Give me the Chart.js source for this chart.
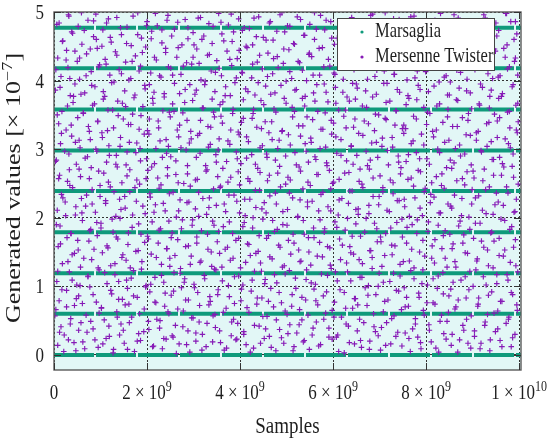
<!DOCTYPE html>
<html>
<head>
<meta charset="utf-8">
<script src="https://cdn.jsdelivr.net/npm/chart.js@4"></script>
<style>
html, body { margin: 0; padding: 0; background: #fff; }
#wrap { width: 547px; height: 444px; }
</style>
</head>
<body>
<div id="wrap"><canvas id="rngChart"></canvas></div>
<script>
// x values are samples in units of 10^9, y values are in units of 10^-7
var xTicks = [0, 2, 4, 6, 8, 10];
var yTicks = [0, 1, 2, 3, 4, 5];
var xRange = [0, 10.04];
var yRange = [-0.22, 5];
var xTitle = 'Samples';
var yTitle = 'Generated values [× 10⁻⁷]';

// Marsaglia output sits on a few discrete levels
var marsagliaLevels = [0, 0.6, 1.19, 1.79, 2.39, 2.98, 3.58, 4.18, 4.77];

// Mersenne Twister output
var mersennePoints = [
[0.08,0.14],[0.31,0.22],[0.47,0.06],[0.62,0.19],[0.95,0.11],[1.12,0.24],[1.28,0.08],[1.51,0.17],[1.73,0.05],[1.86,0.21],[2.14,0.13],[2.33,0.09],[2.41,0.23],[2.69,0.16],[2.92,0.04],[3.05,0.2],[3.27,0.12],[3.58,0.18],[3.66,0.07],[3.91,0.22],[4.13,0.15],[4.29,0.1],[4.52,0.24],[4.77,0.06],[4.94,0.17],[5.16,0.12],[5.38,0.21],[5.49,0.08],[5.73,0.15],[5.98,0.23],[6.12,0.05],[6.35,0.18],[6.61,0.11],[6.79,0.2],[7.02,0.07],[7.24,0.16],[7.48,0.13],[7.63,0.24],[7.89,0.09],[8.11,0.19],[8.27,0.04],[8.54,0.14],[8.72,0.22],[8.96,0.1],[9.18,0.17],[9.37,0.06],[9.59,0.21],[9.83,0.12],
[0.15,0.41],[0.22,0.29],[0.58,0.47],[0.71,0.33],[0.84,0.38],[1.19,0.27],[1.44,0.45],[1.49,0.36],[1.82,0.31],[2.03,0.49],[2.27,0.39],[2.56,0.26],[2.61,0.43],[2.88,0.35],[3.12,0.48],[3.19,0.3],[3.47,0.4],[3.81,0.28],[3.95,0.46],[4.08,0.34],[4.41,0.42],[4.63,0.27],[4.85,0.37],[5.07,0.44],[5.22,0.32],[5.55,0.29],[5.64,0.48],[5.91,0.39],[6.07,0.26],[6.28,0.45],[6.52,0.35],[6.88,0.41],[6.97,0.28],[7.15,0.47],[7.39,0.33],[7.71,0.38],[7.82,0.26],[8.06,0.44],[8.38,0.31],[8.45,0.49],[8.81,0.36],[9.04,0.27],[9.26,0.43],[9.49,0.34],[9.72,0.46],[9.91,0.3],
[0.04,0.66],[0.36,0.53],[0.44,0.72],[0.69,0.58],[1.02,0.69],[1.08,0.51],[1.35,0.63],[1.61,0.74],[1.67,0.55],[1.94,0.67],[2.21,0.52],[2.38,0.71],[2.47,0.6],[2.78,0.64],[2.99,0.54],[3.33,0.73],[3.42,0.57],[3.7,0.68],[3.86,0.52],[4.19,0.62],[4.36,0.74],[4.58,0.56],[4.72,0.7],[5.01,0.59],[5.28,0.66],[5.33,0.51],[5.67,0.73],[5.84,0.61],[6.18,0.55],[6.42,0.68],[6.57,0.52],[6.73,0.72],[7.08,0.63],[7.31,0.57],[7.55,0.7],[7.77,0.53],[7.94,0.65],[8.19,0.74],[8.33,0.58],[8.62,0.67],[8.87,0.52],[9.11,0.71],[9.32,0.59],[9.54,0.64],[9.78,0.55],[9.95,0.73],
[0.11,0.79],[0.27,0.94],[0.53,0.86],[0.77,0.99],[0.91,0.77],[1.24,0.89],[1.39,0.81],[1.58,0.97],[1.79,0.84],[2.06,0.92],[2.19,0.76],[2.52,0.87],[2.74,0.98],[2.83,0.8],[3.09,0.91],[3.36,0.78],[3.53,0.95],[3.77,0.85],[4.02,0.79],[4.24,0.93],[4.47,0.83],[4.66,0.97],[4.89,0.76],[5.12,0.88],[5.41,0.8],[5.59,0.96],[5.79,0.86],[6.03,0.77],[6.24,0.91],[6.46,0.82],[6.69,0.98],[6.92,0.88],[7.11,0.78],[7.36,0.94],[7.58,0.84],[7.84,0.9],[8.02,0.76],[8.24,0.97],[8.49,0.86],[8.69,0.8],[8.92,0.95],[9.13,0.83],[9.41,0.92],[9.63,0.78],[9.86,0.88],
[0.06,1.07],[0.33,1.21],[0.49,1.02],[0.73,1.15],[0.97,1.24],[1.14,1.04],[1.31,1.17],[1.56,1.09],[1.71,1.23],[1.98,1.01],[2.17,1.13],[2.36,1.06],[2.58,1.2],[2.81,1.11],[3.01,1.03],[3.23,1.16],[3.45,1.25],[3.62,1.08],[3.88,1.14],[4.06,1.02],[4.31,1.22],[4.54,1.1],[4.79,1.05],[4.97,1.18],[5.19,1.12],[5.43,1.24],[5.62,1.03],[5.88,1.16],[6.09,1.08],[6.31,1.21],[6.58,1.13],[6.76,1.01],[6.99,1.19],[7.22,1.07],[7.44,1.15],[7.67,1.23],[7.91,1.04],[8.15,1.11],[8.36,1.2],[8.58,1.06],[8.84,1.14],[9.07,1.24],[9.29,1.02],[9.52,1.17],[9.76,1.09],[9.97,1.21],
[0.18,1.33],[0.39,1.46],[0.57,1.28],[0.81,1.39],[1.04,1.49],[1.22,1.3],[1.46,1.42],[1.64,1.27],[1.89,1.36],[2.09,1.47],[2.31,1.32],[2.49,1.41],[2.72,1.26],[2.95,1.44],[3.14,1.35],[3.39,1.29],[3.56,1.48],[3.79,1.38],[4.01,1.27],[4.22,1.45],[4.44,1.34],[4.69,1.4],[4.91,1.28],[5.09,1.47],[5.31,1.37],[5.52,1.31],[5.77,1.43],[5.96,1.26],[6.16,1.39],[6.38,1.49],[6.63,1.33],[6.84,1.42],[7.05,1.29],[7.27,1.46],[7.51,1.36],[7.74,1.27],[7.97,1.44],[8.18,1.34],[8.41,1.41],[8.64,1.28],[8.89,1.48],[9.09,1.37],[9.34,1.3],[9.57,1.45],[9.81,1.35],
[0.09,1.58],[0.28,1.71],[0.52,1.53],[0.75,1.66],[0.93,1.74],[1.16,1.56],[1.37,1.69],[1.59,1.61],[1.81,1.52],[2.01,1.73],[2.24,1.63],[2.43,1.55],[2.66,1.68],[2.89,1.59],[3.07,1.72],[3.31,1.54],[3.51,1.65],[3.73,1.57],[3.97,1.7],[4.16,1.62],[4.39,1.51],[4.61,1.74],[4.83,1.6],[5.04,1.67],[5.26,1.53],[5.47,1.71],[5.71,1.64],[5.93,1.56],[6.14,1.69],[6.36,1.58],[6.59,1.73],[6.81,1.52],[7.03,1.65],[7.26,1.6],[7.49,1.72],[7.69,1.54],[7.93,1.67],[8.13,1.59],[8.37,1.74],[8.56,1.55],[8.79,1.63],[9.02,1.7],[9.24,1.57],[9.46,1.66],[9.69,1.53],[9.92,1.68],
[0.13,1.88],[0.37,1.77],[0.61,1.96],[0.79,1.83],[1.01,1.92],[1.27,1.79],[1.42,1.99],[1.68,1.86],[1.87,1.76],[2.11,1.94],[2.29,1.84],[2.54,1.78],[2.76,1.97],[2.97,1.89],[3.17,1.81],[3.41,1.95],[3.64,1.87],[3.84,1.77],[4.09,1.93],[4.27,1.85],[4.49,1.98],[4.74,1.8],[4.92,1.9],[5.14,1.76],[5.36,1.96],[5.58,1.85],[5.81,1.79],[6.04,1.94],[6.26,1.82],[6.49,1.91],[6.71,1.99],[6.94,1.84],[7.13,1.77],[7.37,1.93],[7.59,1.86],[7.81,1.97],[8.04,1.8],[8.26,1.89],[8.51,1.76],[8.73,1.95],[8.94,1.83],[9.16,1.92],[9.39,1.78],[9.61,1.98],[9.84,1.87],
[0.07,2.11],[0.24,2.23],[0.46,2.04],[0.68,2.17],[0.89,2.08],[1.11,2.21],[1.33,2.02],[1.53,2.14],[1.77,2.24],[1.96,2.06],[2.18,2.19],[2.39,2.1],[2.63,2.01],[2.86,2.22],[3.04,2.13],[3.28,2.05],[3.49,2.18],[3.69,2.09],[3.93,2.24],[4.11,2.03],[4.34,2.15],[4.56,2.07],[4.78,2.2],[5.02,2.12],[5.24,2.01],[5.45,2.23],[5.69,2.1],[5.89,2.16],[6.11,2.04],[6.33,2.21],[6.54,2.13],[6.77,2.06],[6.98,2.19],[7.21,2.09],[7.42,2.25],[7.64,2.02],[7.87,2.14],[8.09,2.22],[8.31,2.07],[8.53,2.17],[8.76,2.03],[8.98,2.2],[9.21,2.11],[9.44,2.05],[9.66,2.18],[9.89,2.08],
[0.16,2.34],[0.34,2.47],[0.59,2.28],[0.82,2.41],[0.99,2.31],[1.21,2.45],[1.41,2.27],[1.63,2.38],[1.84,2.49],[2.07,2.3],[2.26,2.43],[2.48,2.35],[2.71,2.26],[2.93,2.46],[3.11,2.37],[3.34,2.29],[3.57,2.44],[3.76,2.33],[3.99,2.48],[4.21,2.27],[4.42,2.4],[4.64,2.32],[4.87,2.45],[5.06,2.36],[5.29,2.26],[5.51,2.47],[5.74,2.34],[5.95,2.42],[6.19,2.28],[6.41,2.39],[6.62,2.49],[6.86,2.31],[7.07,2.44],[7.29,2.35],[7.53,2.27],[7.73,2.46],[7.96,2.38],[8.17,2.3],[8.39,2.43],[8.61,2.33],[8.83,2.48],[9.06,2.29],[9.28,2.41],[9.51,2.36],[9.73,2.45],[9.94,2.27],
[0.12,2.62],[0.29,2.53],[0.54,2.71],[0.76,2.57],[0.96,2.68],[1.17,2.52],[1.36,2.74],[1.57,2.61],[1.78,2.55],[2.02,2.69],[2.23,2.58],[2.44,2.73],[2.67,2.51],[2.87,2.64],[3.08,2.56],[3.29,2.7],[3.52,2.6],[3.74,2.52],[3.96,2.67],[4.17,2.57],[4.38,2.72],[4.59,2.54],[4.81,2.65],[5.03,2.59],[5.27,2.74],[5.46,2.52],[5.68,2.63],[5.92,2.69],[6.13,2.56],[6.34,2.66],[6.56,2.53],[6.78,2.71],[7.01,2.61],[7.23,2.55],[7.46,2.73],[7.68,2.58],[7.88,2.67],[8.12,2.51],[8.34,2.64],[8.55,2.72],[8.78,2.57],[9.01,2.68],[9.22,2.54],[9.45,2.62],[9.67,2.74],[9.88,2.59],
[0.05,2.84],[0.32,2.93],[0.48,2.78],[0.72,2.89],[0.92,2.97],[1.13,2.81],[1.34,2.91],[1.55,2.77],[1.76,2.95],[1.99,2.86],[2.16,2.79],[2.42,2.94],[2.62,2.83],[2.84,2.99],[3.06,2.88],[3.26,2.76],[3.48,2.92],[3.71,2.82],[3.92,2.96],[4.14,2.87],[4.33,2.78],[4.57,2.93],[4.76,2.84],[4.98,2.9],[5.21,2.77],[5.42,2.97],[5.63,2.85],[5.86,2.8],[6.08,2.94],[6.29,2.83],[6.51,2.91],[6.74,2.76],[6.96,2.88],[7.17,2.98],[7.41,2.81],[7.62,2.92],[7.86,2.86],[8.07,2.78],[8.29,2.95],[8.52,2.84],[8.74,2.9],[8.97,2.77],[9.19,2.96],[9.42,2.85],[9.64,2.79],[9.87,2.93],
[0.14,3.08],[0.38,3.19],[0.56,3.02],[0.78,3.14],[1.03,3.24],[1.18,3.05],[1.43,3.17],[1.62,3.1],[1.85,3.01],[2.04,3.22],[2.28,3.12],[2.46,3.04],[2.68,3.18],[2.91,3.09],[3.13,3.23],[3.32,3.03],[3.55,3.15],[3.78,3.07],[3.98,3.21],[4.18,3.11],[4.43,3.02],[4.62,3.24],[4.84,3.13],[5.08,3.06],[5.3,3.19],[5.53,3.1],[5.72,3.01],[5.97,3.22],[6.17,3.14],[6.39,3.05],[6.64,3.2],[6.83,3.09],[7.06,3.16],[7.28,3.03],[7.52,3.23],[7.72,3.12],[7.95,3.06],[8.16,3.18],[8.4,3.1],[8.63,3.01],[8.86,3.21],[9.08,3.13],[9.31,3.04],[9.53,3.17],[9.77,3.08],[9.96,3.24],
[0.1,3.37],[0.26,3.28],[0.51,3.46],[0.74,3.33],[0.94,3.41],[1.15,3.27],[1.38,3.49],[1.6,3.36],[1.83,3.29],[2.05,3.44],[2.25,3.31],[2.5,3.47],[2.7,3.35],[2.94,3.26],[3.15,3.42],[3.37,3.32],[3.59,3.48],[3.8,3.28],[4.03,3.39],[4.26,3.45],[4.46,3.3],[4.68,3.4],[4.9,3.26],[5.13,3.47],[5.35,3.34],[5.56,3.43],[5.78,3.29],[6.01,3.38],[6.23,3.48],[6.44,3.32],[6.67,3.41],[6.89,3.27],[7.12,3.45],[7.33,3.35],[7.56,3.3],[7.79,3.44],[8.01,3.36],[8.22,3.28],[8.46,3.47],[8.67,3.33],[8.9,3.42],[9.12,3.26],[9.35,3.39],[9.58,3.46],[9.8,3.31],[9.98,3.4],
[0.17,3.55],[0.41,3.68],[0.63,3.52],[0.83,3.64],[1.06,3.73],[1.26,3.57],[1.47,3.67],[1.69,3.51],[1.91,3.62],[2.12,3.74],[2.34,3.56],[2.55,3.66],[2.77,3.53],[2.98,3.71],[3.21,3.6],[3.43,3.54],[3.63,3.69],[3.85,3.58],[4.07,3.72],[4.28,3.52],[4.51,3.65],[4.73,3.59],[4.95,3.74],[5.17,3.55],[5.39,3.63],[5.61,3.7],[5.83,3.53],[6.06,3.67],[6.27,3.57],[6.48,3.73],[6.72,3.61],[6.91,3.51],[7.14,3.68],[7.35,3.56],[7.57,3.65],[7.8,3.72],[8.03,3.54],[8.23,3.63],[8.47,3.58],[8.68,3.71],[8.91,3.52],[9.14,3.66],[9.36,3.6],[9.56,3.74],[9.79,3.55],[9.93,3.64],
[0.03,3.86],[0.35,3.78],[0.45,3.95],[0.66,3.82],[0.88,3.91],[1.09,3.77],[1.29,3.98],[1.52,3.85],[1.74,3.79],[1.95,3.93],[2.15,3.83],[2.37,3.76],[2.59,3.96],[2.82,3.87],[3.03,3.8],[3.24,3.94],[3.46,3.84],[3.68,3.78],[3.89,3.97],[4.12,3.88],[4.32,3.79],[4.55,3.92],[4.75,3.82],[4.99,3.99],[5.18,3.86],[5.4,3.77],[5.65,3.94],[5.85,3.83],[6.05,3.9],[6.3,3.76],[6.5,3.95],[6.7,3.85],[6.93,3.8],[7.16,3.96],[7.38,3.87],[7.61,3.78],[7.83,3.93],[8.05,3.84],[8.28,3.98],[8.5,3.79],[8.71,3.89],[8.95,3.82],[9.17,3.95],[9.4,3.86],[9.62,3.77],[9.85,3.91],
[0.15,4.06],[0.3,4.19],[0.55,4.02],[0.8,4.13],[0.98,4.23],[1.2,4.08],[1.4,4.16],[1.65,4.03],[1.86,4.21],[2.08,4.11],[2.3,4.05],[2.51,4.18],[2.73,4.09],[2.96,4.24],[3.16,4.01],[3.38,4.14],[3.6,4.07],[3.82,4.22],[4.04,4.12],[4.25,4.04],[4.48,4.17],[4.7,4.1],[4.93,4.25],[5.11,4.03],[5.34,4.15],[5.57,4.08],[5.8,4.2],[6.02,4.11],[6.22,4.02],[6.45,4.16],[6.66,4.24],[6.9,4.06],[7.1,4.14],[7.32,4.09],[7.54,4.22],[7.76,4.04],[7.99,4.13],[8.2,4.19],[8.43,4.07],[8.66,4.15],[8.88,4.02],[9.1,4.23],[9.33,4.1],[9.55,4.05],[9.75,4.17],[9.97,4.08],
[0.08,4.33],[0.27,4.44],[0.5,4.28],[0.7,4.39],[0.93,4.47],[1.1,4.31],[1.32,4.42],[1.54,4.27],[1.75,4.36],[1.97,4.49],[2.2,4.3],[2.4,4.41],[2.64,4.34],[2.85,4.26],[3.07,4.46],[3.3,4.37],[3.5,4.29],[3.72,4.43],[3.94,4.32],[4.15,4.48],[4.37,4.27],[4.6,4.4],[4.8,4.35],[5.05,4.45],[5.25,4.28],[5.48,4.38],[5.7,4.47],[5.9,4.31],[6.15,4.42],[6.37,4.26],[6.6,4.36],[6.8,4.49],[7.04,4.33],[7.25,4.41],[7.47,4.29],[7.7,4.45],[7.92,4.35],[8.14,4.27],[8.35,4.43],[8.57,4.32],[8.8,4.48],[9.03,4.3],[9.25,4.39],[9.47,4.46],[9.7,4.34],[9.9,4.28],
[0.19,4.58],[0.4,4.69],[0.6,4.53],[0.85,4.64],[1.05,4.74],[1.23,4.56],[1.45,4.67],[1.66,4.51],[1.88,4.62],[2.1,4.72],[2.32,4.55],[2.53,4.65],[2.75,4.52],[2.99,4.7],[3.18,4.6],[3.4,4.54],[3.61,4.68],[3.83,4.57],[4.05,4.73],[4.27,4.52],[4.5,4.63],[4.71,4.59],[4.96,4.71],[5.15,4.54],[5.37,4.66],[5.6,4.6],[5.82,4.74],[6.03,4.53],[6.25,4.64],[6.47,4.57],[6.68,4.7],[6.92,4.55],[7.12,4.67],[7.34,4.51],[7.55,4.63],[7.78,4.72],[8,4.58],[8.21,4.66],[8.44,4.53],[8.65,4.69],[8.87,4.6],[9.09,4.74],[9.3,4.56],[9.52,4.65],[9.74,4.52],[9.95,4.68],
[0.06,4.82],[0.32,4.94],[0.52,4.79],[0.73,4.88],[0.9,4.97],[1.13,4.84],[1.35,4.92],[1.57,4.78],[1.8,4.99],[2.0,4.86],[2.22,4.8],[2.45,4.95],[2.66,4.85],[2.88,4.77],[3.1,4.91],[3.33,4.83],[3.54,4.98],[3.75,4.81],[3.97,4.9],[4.2,4.76],[4.4,4.93],[4.63,4.84],[4.86,4.96],[5.07,4.79],[5.3,4.89],[5.5,4.82],[5.73,4.95],[5.95,4.86],[6.18,4.78],[6.4,4.92],[6.62,4.85],[6.85,4.97],[7.08,4.8],[7.3,4.9],[7.52,4.83],[7.74,4.94],[7.97,4.77],[8.19,4.88],[8.42,4.81],[8.6,4.96],[8.85,4.87],[9.07,4.79],[9.27,4.91],[9.5,4.84],[9.71,4.98],[9.92,4.86],
[0.21,0.05],[0.43,0.18],[0.12,0.33],[0.35,0.45],[0.02,0.57],[0.27,0.7],[0.48,0.82],[0.17,0.95],[0.39,1.09],[0.08,1.22],[0.3,1.36],[0.44,1.48],[0.14,1.62],[0.36,1.77],[0.05,1.9],[0.25,2.03],[0.47,2.16],[0.19,2.29],[0.4,2.44],[0.1,2.57],[0.33,2.7],[0.03,2.82],[0.23,2.97],[0.46,3.1],[0.16,3.23],[0.37,3.35],[0.07,3.5],[0.29,3.63],[0.42,3.77],[0.13,3.9],[0.34,4.03],[0.04,4.16],[0.26,4.3],[0.45,4.43],[0.18,4.57],[0.38,4.71],[0.11,4.84],[0.31,4.96],
[0.66,0.09],[0.88,0.22],[0.53,0.36],[0.79,0.49],[0.97,0.61],[0.61,0.75],[0.84,0.88],[0.56,1.01],[0.73,1.14],[0.95,1.27],[0.64,1.41],[0.86,1.54],[0.51,1.67],[0.77,1.81],[0.92,1.93],[0.6,2.07],[0.82,2.2],[0.7,2.33],[0.99,2.47],[0.57,2.6],[0.8,2.73],[0.67,2.87],[0.9,3.0],[0.54,3.13],[0.76,3.26],[0.94,3.4],[0.63,3.53],[0.87,3.66],[0.58,3.8],[0.81,3.93],[0.69,4.07],[0.96,4.2],[0.55,4.33],[0.78,4.46],[0.91,4.6],[0.65,4.73],[0.85,4.87],[0.59,4.99],
[1.27,0.03],[1.05,0.16],[1.41,0.29],[1.18,0.42],[1.36,0.55],[1.02,0.68],[1.47,0.81],[1.22,0.94],[1.39,1.07],[1.09,1.2],[1.31,1.33],[1.48,1.46],[1.14,1.59],[1.34,1.72],[1.01,1.85],[1.25,1.98],[1.44,2.12],[1.11,2.25],[1.29,2.38],[1.46,2.51],[1.07,2.65],[1.33,2.78],[1.19,2.91],[1.42,3.04],[1.04,3.17],[1.28,3.31],[1.49,3.44],[1.16,3.57],[1.37,3.7],[1.06,3.84],[1.24,3.97],[1.45,4.1],[1.12,4.24],[1.35,4.37],[1.03,4.5],[1.21,4.63],[1.43,4.77],[1.17,4.9],
[1.58,0.08],[1.79,0.2],[1.93,0.34],[1.62,0.47],[1.84,0.6],[1.53,0.73],[1.71,0.86],[1.97,0.99],[1.66,1.12],[1.88,1.25],[1.55,1.38],[1.76,1.51],[1.95,1.64],[1.6,1.78],[1.82,1.91],[1.69,2.04],[1.91,2.17],[1.52,2.31],[1.74,2.44],[1.98,2.57],[1.63,2.7],[1.86,2.83],[1.57,2.96],[1.78,3.09],[1.94,3.22],[1.65,3.36],[1.87,3.49],[1.54,3.62],[1.72,3.75],[1.96,3.88],[1.61,4.01],[1.83,4.14],[1.68,4.28],[1.9,4.41],[1.56,4.54],[1.8,4.67],[1.99,4.8],[1.7,4.94],
[2.12,0.12],[2.36,0.24],[2.04,0.37],[2.28,0.5],[2.45,0.63],[2.17,0.77],[2.39,0.9],[2.08,1.03],[2.31,1.16],[2.49,1.29],[2.2,1.42],[2.42,1.55],[2.03,1.69],[2.26,1.82],[2.47,1.95],[2.15,2.08],[2.35,2.21],[2.06,2.35],[2.3,2.48],[2.44,2.61],[2.1,2.74],[2.33,2.88],[2.19,3.01],[2.41,3.14],[2.01,3.27],[2.24,3.41],[2.48,3.54],[2.13,3.67],[2.37,3.81],[2.05,3.94],[2.27,4.07],[2.46,4.2],[2.16,4.34],[2.4,4.47],[2.09,4.61],[2.32,4.74],[2.43,4.88],[2.18,4.98],
[2.63,0.02],[2.85,0.15],[2.54,0.28],[2.77,0.41],[2.96,0.54],[2.66,0.67],[2.89,0.8],[2.57,0.93],[2.8,1.06],[2.71,1.19],[2.93,1.32],[2.6,1.45],[2.83,1.58],[2.52,1.71],[2.74,1.84],[2.98,1.97],[2.68,2.1],[2.9,2.23],[2.56,2.37],[2.79,2.5],[2.62,2.63],[2.87,2.76],[2.51,2.89],[2.73,3.02],[2.95,3.15],[2.65,3.28],[2.86,3.42],[2.58,3.55],[2.81,3.68],[2.7,3.81],[2.92,3.94],[2.55,4.08],[2.78,4.21],[2.99,4.34],[2.67,4.48],[2.88,4.61],[2.59,4.75],[2.82,4.89],
[3.18,0.07],[3.41,0.19],[3.05,0.32],[3.29,0.46],[3.46,0.59],[3.13,0.72],[3.35,0.85],[3.02,0.98],[3.24,1.11],[3.48,1.24],[3.16,1.37],[3.38,1.5],[3.07,1.63],[3.3,1.76],[3.44,1.89],[3.11,2.02],[3.33,2.15],[3.2,2.28],[3.43,2.42],[3.04,2.55],[3.27,2.68],[3.49,2.81],[3.14,2.94],[3.36,3.07],[3.09,3.2],[3.31,3.33],[3.45,3.47],[3.19,3.6],[3.4,3.73],[3.06,3.86],[3.25,3.99],[3.47,4.12],[3.12,4.25],[3.34,4.38],[3.01,4.52],[3.22,4.65],[3.42,4.79],[3.15,4.92],
[3.71,0.1],[3.93,0.23],[3.56,0.35],[3.82,0.48],[3.64,0.62],[3.88,0.75],[3.52,0.88],[3.75,1.01],[3.97,1.15],[3.61,1.28],[3.85,1.41],[3.68,1.54],[3.91,1.67],[3.54,1.8],[3.77,1.94],[3.99,2.07],[3.66,2.2],[3.87,2.33],[3.58,2.46],[3.8,2.59],[3.63,2.72],[3.94,2.86],[3.53,2.99],[3.74,3.12],[3.96,3.25],[3.62,3.38],[3.84,3.52],[3.57,3.65],[3.79,3.78],[3.69,3.91],[3.92,4.04],[3.55,4.18],[3.78,4.31],[3.98,4.44],[3.65,4.58],[3.86,4.71],[3.59,4.85],[3.81,4.97],
[4.22,0.04],[4.44,0.17],[4.08,0.3],[4.31,0.43],[4.49,0.56],[4.15,0.69],[4.37,0.83],[4.03,0.96],[4.26,1.09],[4.46,1.22],[4.12,1.35],[4.34,1.48],[4.19,1.61],[4.41,1.74],[4.06,1.87],[4.28,2.0],[4.47,2.13],[4.1,2.27],[4.33,2.4],[4.21,2.53],[4.43,2.66],[4.02,2.79],[4.25,2.92],[4.48,3.05],[4.14,3.18],[4.36,3.32],[4.07,3.45],[4.29,3.58],[4.45,3.71],[4.17,3.84],[4.39,3.97],[4.05,4.11],[4.27,4.24],[4.42,4.37],[4.13,4.5],[4.35,4.64],[4.09,4.77],[4.3,4.91],
[4.67,0.11],[4.89,0.25],[4.55,0.38],[4.78,0.51],[4.97,0.64],[4.61,0.78],[4.84,0.91],[4.53,1.04],[4.74,1.17],[4.95,1.3],[4.64,1.43],[4.86,1.57],[4.57,1.7],[4.8,1.83],[4.7,1.96],[4.92,2.09],[4.52,2.22],[4.76,2.36],[4.98,2.49],[4.63,2.62],[4.85,2.75],[4.58,2.88],[4.81,3.01],[4.69,3.14],[4.91,3.27],[4.54,3.4],[4.77,3.54],[4.99,3.67],[4.66,3.8],[4.88,3.93],[4.59,4.06],[4.82,4.19],[4.72,4.32],[4.94,4.46],[4.56,4.59],[4.79,4.72],[4.65,4.86],[4.9,4.99],
[5.14,0.06],[5.36,0.19],[5.03,0.31],[5.27,0.44],[5.46,0.58],[5.11,0.71],[5.33,0.84],[5.2,0.97],[5.42,1.1],[5.06,1.23],[5.29,1.36],[5.48,1.5],[5.16,1.63],[5.38,1.76],[5.01,1.89],[5.24,2.02],[5.45,2.16],[5.13,2.29],[5.35,2.42],[5.08,2.55],[5.3,2.68],[5.47,2.81],[5.18,2.95],[5.4,3.08],[5.04,3.21],[5.26,3.34],[5.44,3.47],[5.12,3.61],[5.34,3.74],[5.21,3.87],[5.43,4.0],[5.07,4.13],[5.28,4.26],[5.49,4.4],[5.17,4.53],[5.39,4.66],[5.02,4.8],[5.23,4.93],
[5.69,0.13],[5.91,0.26],[5.57,0.39],[5.8,0.52],[5.98,0.65],[5.63,0.79],[5.86,0.92],[5.53,1.05],[5.75,1.18],[5.94,1.31],[5.66,1.44],[5.88,1.58],[5.59,1.71],[5.82,1.84],[5.72,1.97],[5.95,2.1],[5.55,2.24],[5.78,2.37],[5.99,2.5],[5.65,2.63],[5.87,2.76],[5.61,2.89],[5.84,3.03],[5.52,3.16],[5.74,3.29],[5.96,3.42],[5.67,3.55],[5.89,3.69],[5.58,3.82],[5.81,3.95],[5.71,4.08],[5.93,4.21],[5.54,4.35],[5.77,4.48],[5.97,4.62],[5.64,4.75],[5.85,4.88],[5.6,4.99],
[6.24,0.03],[6.46,0.16],[6.1,0.29],[6.33,0.42],[6.02,0.55],[6.27,0.68],[6.48,0.82],[6.15,0.95],[6.38,1.08],[6.05,1.21],[6.29,1.34],[6.44,1.47],[6.2,1.6],[6.41,1.73],[6.08,1.86],[6.31,1.99],[6.49,2.12],[6.13,2.26],[6.36,2.39],[6.01,2.52],[6.25,2.65],[6.43,2.78],[6.17,2.91],[6.39,3.04],[6.06,3.18],[6.28,3.31],[6.47,3.44],[6.12,3.57],[6.35,3.7],[6.21,3.83],[6.42,3.96],[6.04,4.09],[6.3,4.22],[6.16,4.36],[6.4,4.49],[6.09,4.62],[6.32,4.75],[6.45,4.88],
[6.78,0.08],[6.59,0.21],[6.91,0.34],[6.66,0.47],[6.87,0.6],[6.53,0.73],[6.75,0.87],[6.97,1.0],[6.62,1.13],[6.84,1.26],[6.56,1.39],[6.79,1.52],[6.95,1.65],[6.68,1.79],[6.89,1.92],[6.54,2.05],[6.77,2.18],[6.99,2.31],[6.64,2.44],[6.86,2.58],[6.58,2.71],[6.8,2.84],[6.71,2.97],[6.93,3.1],[6.55,3.23],[6.76,3.37],[6.98,3.5],[6.63,3.63],[6.85,3.76],[6.52,3.89],[6.74,4.02],[6.94,4.15],[6.6,4.29],[6.82,4.42],[6.69,4.55],[6.92,4.68],[6.57,4.82],[6.81,4.95],
[7.13,0.14],[7.35,0.27],[7.04,0.4],[7.26,0.53],[7.47,0.66],[7.18,0.8],[7.41,0.93],[7.08,1.06],[7.3,1.19],[7.44,1.32],[7.11,1.45],[7.33,1.59],[7.02,1.72],[7.24,1.85],[7.48,1.98],[7.16,2.11],[7.38,2.25],[7.07,2.38],[7.29,2.51],[7.45,2.64],[7.19,2.77],[7.4,2.9],[7.05,3.04],[7.27,3.17],[7.49,3.3],[7.14,3.43],[7.36,3.56],[7.22,3.7],[7.43,3.83],[7.09,3.96],[7.31,4.09],[7.46,4.23],[7.17,4.36],[7.39,4.49],[7.03,4.62],[7.25,4.76],[7.42,4.89],[7.12,4.99],
[7.66,0.05],[7.88,0.18],[7.55,0.32],[7.77,0.45],[7.96,0.58],[7.62,0.71],[7.85,0.84],[7.53,0.98],[7.74,1.11],[7.93,1.24],[7.64,1.37],[7.86,1.5],[7.58,1.63],[7.8,1.77],[7.7,1.9],[7.92,2.03],[7.54,2.16],[7.76,2.29],[7.98,2.43],[7.61,2.56],[7.83,2.69],[7.57,2.82],[7.79,2.95],[7.68,3.08],[7.9,3.22],[7.52,3.35],[7.73,3.48],[7.95,3.61],[7.63,3.74],[7.87,3.87],[7.59,4.01],[7.81,4.14],[7.71,4.27],[7.94,4.4],[7.56,4.54],[7.78,4.67],[7.99,4.8],[7.67,4.93],
[8.21,0.1],[8.43,0.23],[8.07,0.36],[8.3,0.49],[8.48,0.62],[8.15,0.76],[8.37,0.89],[8.03,1.02],[8.26,1.15],[8.45,1.28],[8.12,1.41],[8.34,1.55],[8.19,1.68],[8.41,1.81],[8.05,1.94],[8.28,2.07],[8.47,2.2],[8.1,2.34],[8.33,2.47],[8.22,2.6],[8.44,2.73],[8.02,2.86],[8.25,3.0],[8.49,3.13],[8.14,3.26],[8.36,3.39],[8.08,3.52],[8.29,3.66],[8.46,3.79],[8.17,3.92],[8.39,4.05],[8.04,4.19],[8.27,4.32],[8.42,4.45],[8.13,4.58],[8.35,4.72],[8.06,4.85],[8.31,4.98],
[8.68,0.04],[8.9,0.17],[8.56,0.3],[8.79,0.43],[8.97,0.57],[8.64,0.7],[8.86,0.83],[8.53,0.96],[8.75,1.09],[8.94,1.22],[8.62,1.36],[8.84,1.49],[8.58,1.62],[8.81,1.75],[8.7,1.88],[8.92,2.01],[8.55,2.14],[8.77,2.28],[8.99,2.41],[8.66,2.54],[8.88,2.67],[8.6,2.8],[8.83,2.93],[8.72,3.06],[8.95,3.2],[8.57,3.33],[8.78,3.46],[8.98,3.59],[8.65,3.72],[8.87,3.85],[8.52,3.98],[8.74,4.12],[8.93,4.25],[8.63,4.38],[8.85,4.51],[8.59,4.65],[8.8,4.78],[8.69,4.91],
[9.16,0.09],[9.38,0.22],[9.04,0.35],[9.27,0.48],[9.46,0.61],[9.12,0.74],[9.34,0.87],[9.01,1.0],[9.23,1.14],[9.44,1.27],[9.1,1.4],[9.32,1.53],[9.19,1.66],[9.41,1.79],[9.06,1.92],[9.29,2.06],[9.48,2.19],[9.13,2.32],[9.36,2.45],[9.03,2.58],[9.25,2.71],[9.45,2.85],[9.18,2.98],[9.4,3.11],[9.08,3.24],[9.3,3.37],[9.47,3.51],[9.15,3.64],[9.37,3.77],[9.21,3.9],[9.43,4.03],[9.05,4.16],[9.28,4.3],[9.49,4.43],[9.11,4.56],[9.33,4.69],[9.02,4.83],[9.24,4.96],
[9.63,0.12],[9.86,0.25],[9.54,0.38],[9.77,0.52],[9.96,0.65],[9.6,0.78],[9.83,0.91],[9.52,1.04],[9.74,1.17],[9.93,1.3],[9.66,1.44],[9.88,1.57],[9.57,1.7],[9.8,1.83],[9.69,1.96],[9.91,2.09],[9.55,2.23],[9.76,2.36],[9.98,2.49],[9.62,2.62],[9.85,2.75],[9.58,2.88],[9.81,3.02],[9.7,3.15],[9.94,3.28],[9.53,3.41],[9.75,3.54],[9.97,3.67],[9.64,3.81],[9.87,3.94],[9.59,4.07],[9.79,4.2],[9.92,4.33],[9.67,4.47],[9.89,4.6],[9.56,4.73],[9.82,4.86],[9.73,4.98]
];

var tealColor = '#0f9a7b';
var purpleColor = '#861ab6';
var textColor = '#1e1e1e';
var serif = '"Liberation Serif", "DejaVu Serif", serif';
var stretchY = 1.25; // the original figure is taller than its fonts

// each level becomes one horizontal run, broken by a null point
var marsagliaData = [];
marsagliaLevels.forEach(function (lvl) {
    marsagliaData.push({x: xRange[0], y: lvl});
    marsagliaData.push({x: xRange[1], y: lvl});
    marsagliaData.push({x: xRange[1], y: null});
});

// draws text squeezed/stretched around (x, y); parts = [[text, size, rise], ...]
function drawParts(ctx, parts, x, y, rot, sx, sy, align) {
    ctx.save();
    ctx.translate(x, y);
    if (rot) ctx.rotate(rot);
    ctx.scale(sx, sy);
    var total = 0;
    parts.forEach(function (p) {
        ctx.font = p[1] + 'px ' + serif;
        total += ctx.measureText(p[0]).width;
    });
    var cx = align === 'center' ? -total / 2 : (align === 'right' ? -total : 0);
    ctx.textAlign = 'left';
    ctx.textBaseline = 'alphabetic';
    parts.forEach(function (p) {
        ctx.font = p[1] + 'px ' + serif;
        ctx.fillText(p[0], cx, -(p[2] || 0));
        cx += ctx.measureText(p[0]).width;
    });
    ctx.restore();
}

function xLabelParts(v) {
    if (v === 0) return [['0', 17]];
    var real = v * 1e9;
    var exp = Math.floor(Math.log10(real) + 1e-9);
    var mant = Math.round(real / Math.pow(10, exp));
    return [[mant + ' × 10', 17], [String(exp), 12, 6.5]];
}

var plotFrame = {
    id: 'plotFrame',
    beforeDraw: function (chart) {
        var a = chart.chartArea, ctx = chart.ctx;
        ctx.save();
        ctx.fillStyle = '#e2f7f6';
        ctx.fillRect(a.left, a.top, a.right - a.left, a.bottom - a.top);
        ctx.restore();
    },
    afterDatasetsDraw: function (chart) {
        var a = chart.chartArea, ctx = chart.ctx;
        var xs = chart.scales.x, ys = chart.scales.y;
        ctx.save();
        ctx.strokeStyle = '#5a5a5a';
        ctx.lineWidth = 1.4;
        ctx.strokeRect(a.left, a.top, a.right - a.left, a.bottom - a.top);
        ctx.lineWidth = 1;
        ctx.strokeStyle = '#333';
        ctx.beginPath();
        xTicks.forEach(function (v) {
            var px = Math.round(xs.getPixelForValue(v)) + 0.5;
            ctx.moveTo(px, a.bottom); ctx.lineTo(px, a.bottom - 7);
            ctx.moveTo(px, a.top); ctx.lineTo(px, a.top + 7);
        });
        yTicks.forEach(function (v) {
            var py = Math.round(ys.getPixelForValue(v)) + 0.5;
            ctx.moveTo(a.left, py); ctx.lineTo(a.left + 7, py);
            ctx.moveTo(a.right, py); ctx.lineTo(a.right - 7, py);
        });
        ctx.stroke();

        // tick labels and axis titles
        ctx.fillStyle = textColor;
        xTicks.forEach(function (v) {
            drawParts(ctx, xLabelParts(v), xs.getPixelForValue(v), a.bottom + 29, 0, 1, stretchY, 'center');
        });
        yTicks.forEach(function (v) {
            drawParts(ctx, [[String(v), 17]], a.left - 10, ys.getPixelForValue(v) + 7, 0, 1, stretchY, 'right');
        });
        drawParts(ctx, [[xTitle, 19]], (a.left + a.right) / 2, 433, 0, 1, stretchY, 'center');
        drawParts(ctx, [['Generated values [× 10', 20], ['−7', 14, 8], [']', 20]], 20, (a.top + a.bottom) / 2 - 3, -Math.PI / 2, 1.3, 1, 'center');

        // legend box in the upper right corner
        var bx = 337, by = 18, bw = 157, bh = 52;
        ctx.fillStyle = '#fff';
        ctx.fillRect(bx, by, bw, bh);
        ctx.strokeStyle = '#444';
        ctx.lineWidth = 1;
        ctx.strokeRect(bx + 0.5, by + 0.5, bw, bh);
        chart.data.datasets.forEach(function (ds, i) {
            var cy = by + 14 + i * 25;
            ctx.beginPath();
            ctx.fillStyle = ds.legendColor;
            ctx.arc(bx + 25, cy, 1.6, 0, Math.PI * 2);
            ctx.fill();
            ctx.fillStyle = textColor;
            drawParts(ctx, [[ds.label, 16.5]], bx + 38, cy + 5, 0, 1, stretchY, 'left');
        });
        ctx.restore();
    }
};

var ctx = document.getElementById('rngChart').getContext('2d');
var rngChart = new Chart(ctx, {
    type: 'scatter',
    data: {
        datasets: [{
            label: 'Marsaglia',
            data: marsagliaData,
            showLine: true,
            spanGaps: false,
            borderColor: tealColor,
            borderWidth: 4,
            borderDash: [40, 2],
            pointRadius: 0,
            legendColor: tealColor,
            order: 2
        }, {
            label: 'Mersenne Twister',
            data: mersennePoints,
            pointStyle: 'cross',
            pointRadius: 2.8,
            borderWidth: 1.15,
            borderColor: purpleColor,
            backgroundColor: purpleColor,
            legendColor: purpleColor,
            order: 1
        }]
    },
    options: {
        responsive: true,
        maintainAspectRatio: false,
        animation: false,
        layout: { padding: { top: 12, right: 26, left: 0, bottom: 0 } },
        plugins: {
            legend: { display: false },
            tooltip: { enabled: false }
        },
        scales: {
            x: {
                type: 'linear',
                min: xRange[0],
                max: xRange[1],
                afterBuildTicks: function (scale) {
                    scale.ticks = xTicks.map(function (v) { return {value: v}; });
                },
                afterFit: function (scale) {
                    scale.height = 74;
                    scale.paddingLeft = scale.paddingRight = 0;
                    scale.paddingTop = scale.paddingBottom = 0;
                },
                grid: { color: '#333', lineWidth: 1, drawTicks: false },
                border: { display: false, dash: [2, 2] },
                ticks: { display: false }
            },
            y: {
                type: 'linear',
                min: yRange[0],
                max: yRange[1],
                afterBuildTicks: function (scale) {
                    scale.ticks = yTicks.map(function (v) { return {value: v}; });
                },
                afterFit: function (scale) {
                    scale.width = 54;
                    scale.paddingLeft = scale.paddingRight = 0;
                    scale.paddingTop = scale.paddingBottom = 0;
                },
                grid: { color: '#333', lineWidth: 1, drawTicks: false },
                border: { display: false, dash: [2, 2] },
                ticks: { display: false }
            }
        }
    },
    plugins: [plotFrame]
});
</script>
</body>
</html>
